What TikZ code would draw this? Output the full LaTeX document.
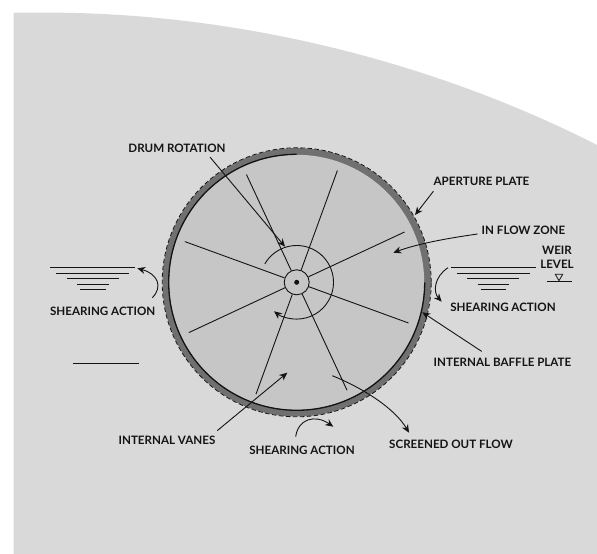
\documentclass[tikz,border=0pt]{standalone}
\usepackage{xcolor}
\usepackage{fontspec}
\setmainfont{Lato}
\usetikzlibrary{arrows.meta,positioning,calc}
\definecolor{DrumBack}{RGB}{217,217,217}
\definecolor{DrumFill}{RGB}{198,198,198}
\definecolor{DrumRing}{RGB}{112,112,112}
\definecolor{DrumInk}{RGB}{20,20,20}
\tikzset{
  lbl/.style={text=DrumInk,font=\bfseries\fontsize{11.6}{14}\selectfont,inner sep=0pt,align=center},
  arr/.style={-{Stealth[length=8pt,width=7pt]},DrumInk,line width=0.9pt},
  vane/.style={DrumInk,line width=0.9pt},
  wline/.style={DrumInk,line width=1pt},
}
\begin{document}
\begin{tikzpicture}[x=1pt,y=1pt]
  \useasboundingbox (0,0) rectangle (597,554);
  \fill[DrumBack] (13.5,0) -- (13.5,541.3) -- (60,541.3)
    .. controls (250,539) and (440,489) .. (597,409) -- (597,0) -- cycle;
  \coordinate (drum) at (296.7,271.7);
  \fill[DrumRing] (drum) circle[radius=134.2];
  \draw[DrumInk,dashed,dash pattern=on 4.5pt off 2.5pt,line width=0.8pt] (drum) circle[radius=134.5];
  \fill[DrumFill] (drum) circle[radius=127.5];
  \draw[DrumInk,line width=1.3pt] (296.7,399.7) arc[start angle=90,end angle=360,radius=128];
  \node[circle,draw=DrumInk,line width=0.9pt,minimum size=25pt,inner sep=0pt] (hub) at (drum) {};
  \fill[DrumInk] (drum) circle[radius=2.5];
  \foreach \ang in {25,70,...,340} {
    \coordinate (vane\ang) at ($(drum)+(\ang:119)$);
    \draw[vane] (hub) -- (vane\ang);
  }
  % rotation arc
  \coordinate (rotstart) at ($(drum)+(150:36.8)$);
  \draw[arr] (rotstart) arc[start angle=150,end angle=-128,radius=36.8];
  % labels
  \node[lbl] (lbldrum) at (177,405.3) {DRUM ROTATION};
  \node[lbl] (lblaper) at (481.5,372.3) {APERTURE PLATE};
  \node[lbl] (lblflow) at (523.5,324) {IN FLOW ZONE};
  \node[lbl] (lblweir) at (557,297) {WEIR\\LEVEL};
  \node[lbl] (lblshearr) at (503,246.3) {SHEARING ACTION};
  \node[lbl] (lblbaffle) at (502.5,191.3) {INTERNAL BAFFLE PLATE};
  \node[lbl] (lblshearl) at (102.7,243) {SHEARING ACTION};
  \node[lbl] (lblvanes) at (167,114) {INTERNAL VANES};
  \node[lbl] (lblshearb) at (302,103.3) {SHEARING ACTION};
  \node[lbl] (lblscreen) at (451,110) {SCREENED OUT FLOW};
  % arrow ends
  \coordinate (tipdrum) at (285,307.3);
  \coordinate (tipaper) at (415,339);
  \coordinate (tipflow) at (393.3,301.3);
  \coordinate (tipbaffle) at (422.3,241.7);
  \coordinate (tipvanes) at (287.3,181.3);
  \coordinate (tipscreen) at (409,121.3);
  \coordinate (tailscreen) at (332.3,178.3);
  \coordinate (tailshearr) at (448,286.3);
  \coordinate (tipshearr) at (441.7,252.3);
  \coordinate (tailshearl) at (152.3,256.3);
  \coordinate (tipshearl) at (137.3,285.7);
  \coordinate (tailshearb) at (295.7,117.3);
  \coordinate (tipshearb) at (333.3,127.3);
  \draw[arr] ([xshift=33pt,yshift=-3.9pt]lbldrum.south) -- (tipdrum);
  \draw[arr] ([yshift=-5.1pt]lblaper.south west) -- (tipaper);
  \draw[arr] ([xshift=-4pt,yshift=-4pt]lblflow.west) .. controls (450,316) and (420,311) .. (tipflow);
  \draw[arr] ([xshift=-20.8pt,yshift=6.9pt]lblbaffle.north) -- (tipbaffle);
  \draw[arr] ([xshift=50.3pt,yshift=4.9pt]lblvanes.north) -- (tipvanes);
  \draw[arr] (tailscreen) .. controls (365,165) and (395,145) .. (tipscreen);
  % shearing arrows
  \draw[arr] (tailshearr) .. controls (434,277) and (433,262) .. (tipshearr);
  \draw[arr] (tailshearl) .. controls (163,267) and (158,280) .. (tipshearl);
  \draw[arr] (tailshearb) .. controls (298,135) and (315,140) .. (tipshearb);
  % water levels
  \foreach \xa/\xb/\yy in {451/536/286.3,457/530/280.3,467/519/275,477.7/509/269.3,480.7/506/264,
                           50/135/286,56.3/129.3/280.3,66.7/119/275,77/109/269.3,80/106/264,
                           73.3/139.3/190.7,546.7/571.7/272}
    \draw[wline] (\xa,\yy) -- (\xb,\yy);
  \draw[DrumInk,line width=0.8pt] (555.3,279.7) -- (562.7,279.7) -- (559,273.3) -- cycle;
\end{tikzpicture}
\end{document}
